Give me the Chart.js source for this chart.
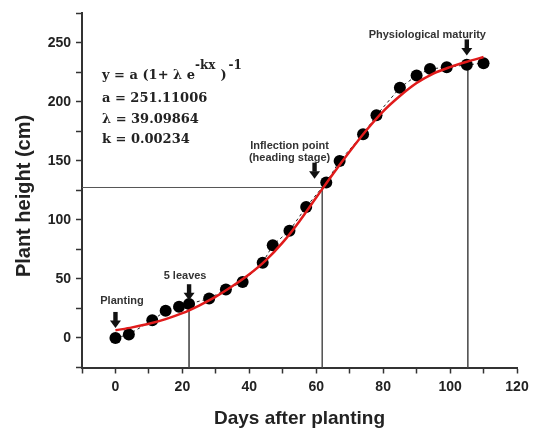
<!DOCTYPE html>
<html>
<head>
<meta charset="utf-8">
<script src="https://cdn.jsdelivr.net/npm/chart.js@4/dist/chart.umd.min.js"></script>
<style>
body { margin: 0; background: #fff; }
</style>
</head>
<body>
<canvas id="myChart" width="537" height="428"></canvas>
<script>
// measured plant height (cm) per day after planting
const days = [0, 4, 11, 15, 19, 22, 28, 33, 38, 44, 47, 52, 57, 63, 67, 74, 78, 85, 90, 94, 99, 105, 110];
const heights = [0, 3, 15, 23, 26.5, 28.8, 33.5, 41, 47.4, 63.8, 78.6, 90.9, 111, 131.8, 150, 172.6, 188.7, 212, 222.3, 228, 229.3, 231.4, 232.8];

// fitted logistic curve, every 5 days
const fitDays = [0, 5, 10, 15, 20, 25, 30, 35, 40, 45, 50, 55, 60, 65, 70, 75, 80, 85, 90, 95, 100, 105, 110];
const fitHeights = [6.5, 9, 12, 16, 21, 27.5, 35, 44, 54, 66, 81, 99, 119, 139, 158, 176, 192, 205, 216, 224, 229.5, 234, 238];

// guide lines
const leavesGuideX = [22, 22];
const leavesGuideY = [28.8, -25];
const inflectGuideX = [-10, 61.8, 61.8];
const inflectGuideY = [127.5, 127.5, -25];
const maturityGuideX = [105.3, 105.3];
const maturityGuideY = [231.4, -25];

// markers (arrow at day, arrow tip at height)
const markerLabels = [['Planting'], ['5 leaves'], ['Inflection point', '(heading stage)'], ['Physiological maturity']];
const markerDays = [0, 22, 59.5, 105];
const markerTips = [8.5, 32, 135, 239.4];

// equation text
const equationParams = ['a = 251.11006', 'λ = 39.09864', 'k = 0.00234'];

// axis ticks
const xLabelled = [0, 20, 40, 60, 80, 100, 120];
const yLabelled = [0, 50, 100, 150, 200, 250];

function toPoints(xs, ys) {
  return xs.map((x, i) => ({x: x, y: ys[i]}));
}

function guide(xs, ys) {
  return {
    data: toPoints(xs, ys),
    showLine: true,
    borderColor: '#555',
    borderWidth: 1,
    pointRadius: 0,
    order: 3
  };
}

// text offsets relative to the arrow tip
const labelOffsets = [[6.5, -26.5], [-4, -24], [-25, -33], [-39.5, -20]];

const annotationPlugin = {
  id: 'annotations',
  afterDatasetsDraw(chart) {
    const ctx = chart.ctx;
    const xs = chart.scales.x;
    const ys = chart.scales.y;
    ctx.save();

    // arrows + labels
    for (let i = 0; i < markerLabels.length; i++) {
      const px = xs.getPixelForValue(markerDays[i]);
      const py = ys.getPixelForValue(markerTips[i]);
      ctx.fillStyle = '#111';
      ctx.fillRect(px - 2.2, py - 16, 4.4, 9);
      ctx.beginPath();
      ctx.moveTo(px - 5.5, py - 7.5);
      ctx.lineTo(px + 5.5, py - 7.5);
      ctx.lineTo(px, py);
      ctx.closePath();
      ctx.fill();

      ctx.fillStyle = '#333';
      ctx.font = 'bold 11px "Liberation Sans", Arial, sans-serif';
      ctx.textAlign = 'center';
      ctx.textBaseline = 'middle';
      const lines = markerLabels[i];
      lines.forEach((t, j) => {
        ctx.fillText(t, px + labelOffsets[i][0], py + labelOffsets[i][1] + j * 12);
      });
    }

    // equation
    ctx.fillStyle = '#222';
    ctx.textAlign = 'left';
    ctx.textBaseline = 'alphabetic';
    const mainFont = 'bold 13px "DejaVu Serif", serif';
    const supFont = 'bold 12px "DejaVu Serif", serif';
    let x = 102;
    ctx.font = mainFont;
    ctx.fillText('y = a (1+ λ e', x, 79);
    x += ctx.measureText('y = a (1+ λ e').width;
    ctx.font = supFont;
    ctx.fillText('-kx', x, 69);
    x += ctx.measureText('-kx').width + 5;
    ctx.font = mainFont;
    ctx.fillText(')', x, 79);
    x += ctx.measureText(')').width + 2;
    ctx.font = supFont;
    ctx.fillText('-1', x, 69);

    ctx.font = mainFont;
    equationParams.forEach((t, i) => {
      ctx.fillText(t, 102, 102 + i * 20.5);
    });
    ctx.restore();
  }
};

const config = {
  type: 'scatter',
  data: {
    datasets: [
      {
        // fitted curve on top
        data: toPoints(fitDays, fitHeights),
        showLine: true,
        borderColor: '#e01b1b',
        borderWidth: 2.5,
        pointRadius: 0,
        cubicInterpolationMode: 'monotone',
        order: 0
      },
      {
        data: toPoints(days, heights),
        showLine: true,
        borderColor: '#222',
        borderWidth: 1,
        borderDash: [3, 3],
        pointRadius: 6,
        pointBackgroundColor: '#000',
        pointBorderColor: '#000',
        pointBorderWidth: 0,
        order: 1
      },
      guide(leavesGuideX, leavesGuideY),
      guide(inflectGuideX, inflectGuideY),
      guide(maturityGuideX, maturityGuideY)
    ]
  },
  options: {
    responsive: false,
    animation: false,
    layout: {
      padding: {top: 13, right: 20, left: 0, bottom: 0}
    },
    scales: {
      x: {
        type: 'linear',
        min: -10,
        max: 120,
        afterFit: function(scale) { scale.height = 60.5; },
        border: {color: '#333', width: 2},
        grid: {
          drawOnChartArea: false,
          drawTicks: true,
          tickLength: 6,
          tickColor: '#333',
          tickWidth: 1.5
        },
        ticks: {
          stepSize: 10,
          autoSkip: false,
          maxRotation: 0,
          padding: 5,
          color: '#222',
          font: {family: '"Liberation Sans", Arial, sans-serif', size: 14, weight: 'bold'},
          callback: function(value) {
            return xLabelled.includes(value) ? value : '';
          }
        },
        title: {
          display: true,
          text: 'Days after planting',
          color: '#222',
          padding: {top: 0, bottom: 0},
          font: {family: '"Liberation Sans", Arial, sans-serif', size: 19, weight: 'bold', lineHeight: 1}
        }
      },
      y: {
        type: 'linear',
        min: -25,
        max: 275,
        afterFit: function(scale) { scale.width = 82; },
        border: {color: '#333', width: 2},
        grid: {
          drawOnChartArea: false,
          drawTicks: true,
          tickLength: 6,
          tickColor: '#333',
          tickWidth: 1.5
        },
        ticks: {
          stepSize: 25,
          autoSkip: false,
          padding: 5,
          color: '#222',
          font: {family: '"Liberation Sans", Arial, sans-serif', size: 14, weight: 'bold'},
          callback: function(value) {
            return yLabelled.includes(value) ? value : '';
          }
        },
        title: {
          display: true,
          // trailing spaces push the title a bit lower, like the original
          text: 'Plant height (cm)  ',
          color: '#222',
          padding: {top: 12, bottom: 0},
          font: {family: '"Liberation Sans", Arial, sans-serif', size: 20, weight: 'bold', lineHeight: 1.2}
        }
      }
    },
    plugins: {
      legend: {display: false},
      tooltip: {enabled: false}
    }
  },
  plugins: [annotationPlugin]
};

new Chart(document.getElementById('myChart'), config);
</script>
</body>
</html>
